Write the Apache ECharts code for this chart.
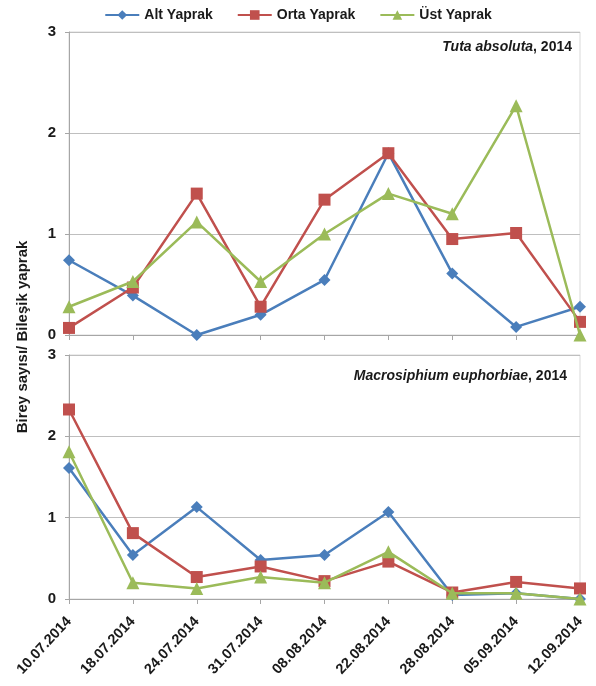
<!DOCTYPE html>
<html>
<head>
<meta charset="utf-8">
<script src="https://cdn.jsdelivr.net/npm/echarts@6/dist/echarts.min.js"></script>
<style>
  html, body { margin: 0; padding: 0; background: #fff; }
  #chart { width: 596px; height: 686px; }
</style>
</head>
<body>
<div id="chart"></div>
<script>
// Sampling dates
const dates = ['10.07.2014', '18.07.2014', '24.07.2014', '31.07.2014', '08.08.2014',
               '22.08.2014', '28.08.2014', '05.09.2014', '12.09.2014'];

// Tuta absoluta, 2014 (individuals per compound leaf)
const tutaAlt  = [0.74, 0.39, 0.00, 0.20, 0.545, 1.80, 0.61, 0.08, 0.28];
const tutaOrta = [0.07, 0.47, 1.40, 0.28, 1.34, 1.80, 0.95, 1.01, 0.13];
const tutaUst  = [0.28, 0.53, 1.12, 0.53, 1.00, 1.40, 1.20, 2.27, 0.00];

// Macrosiphium euphorbiae, 2014
const macAlt  = [1.61, 0.54, 1.13, 0.48, 0.54, 1.07, 0.05, 0.07, 0.00];
const macOrta = [2.33, 0.81, 0.27, 0.40, 0.22, 0.46, 0.08, 0.21, 0.13];
const macUst  = [1.81, 0.20, 0.13, 0.27, 0.20, 0.58, 0.07, 0.07, 0.00];

const yTicks = [0, 1, 2, 3];

const FONT = '"Liberation Sans", Arial, sans-serif';
const BLUE = '#4A7EBB', RED = '#C0504D', GREEN = '#9BBB59';

const chart = echarts.init(document.getElementById('chart'));

function xAxis(gridIndex, showLabels) {
  return {
    type: 'category', gridIndex, data: dates, boundaryGap: false,
    axisLine: { lineStyle: { color: '#A6A6A6', width: 1 } },
    axisTick: { show: true, alignWithLabel: true, length: 5, lineStyle: { color: '#A6A6A6' } },
    axisLabel: {
      show: showLabels, rotate: 47, margin: 20, color: '#1a1a1a',
      fontFamily: FONT, fontWeight: 'bold', fontSize: 14.5
    },
    splitLine: { show: false }
  };
}
function yAxis(gridIndex) {
  return {
    type: 'value', gridIndex, min: yTicks[0], max: yTicks[yTicks.length - 1], interval: 1,
    axisLine: { show: true, lineStyle: { color: '#A6A6A6' } },
    axisTick: { show: true, length: 4, lineStyle: { color: '#A6A6A6' } },
    axisLabel: { color: '#1a1a1a', fontFamily: FONT, fontWeight: 'bold', fontSize: 15, margin: 13 },
    splitLine: { show: true, lineStyle: { color: '#BFBFBF', width: 1 } }
  };
}
function series(name, data, color, symbol, size, idx) {
  return {
    name, type: 'line', data, xAxisIndex: idx, yAxisIndex: idx,
    symbol, symbolSize: size, showSymbol: true,
    itemStyle: { color }, lineStyle: { color, width: 2.5 },
    animation: false, z: symbol === 'triangle' ? 4 : (symbol === 'rect' ? 3 : 2)
  };
}

const option = {
  animation: false,
  backgroundColor: '#fff',
  legend: {
    top: 3, left: 'center', itemWidth: 34, itemHeight: 12, itemGap: 24,
    data: ['Alt Yaprak', 'Orta Yaprak', 'Üst Yaprak'],
    textStyle: { fontFamily: FONT, fontWeight: 'bold', fontSize: 14, color: '#1a1a1a' }
  },
  grid: [
    { left: 69, top: 32, width: 511, height: 303, show: true, borderColor: '#D9D9D9', borderWidth: 1 },
    { left: 69, top: 355, width: 511, height: 244, show: true, borderColor: '#D9D9D9', borderWidth: 1 }
  ],
  xAxis: [xAxis(0, false), xAxis(1, true)],
  yAxis: [yAxis(0), yAxis(1)],
  series: [
    series('Alt Yaprak', tutaAlt, BLUE, 'diamond', 12, 0),
    series('Orta Yaprak', tutaOrta, RED, 'rect', 12, 0),
    series('Üst Yaprak', tutaUst, GREEN, 'triangle', 13, 0),
    series('Alt Yaprak', macAlt, BLUE, 'diamond', 12, 1),
    series('Orta Yaprak', macOrta, RED, 'rect', 12, 1),
    series('Üst Yaprak', macUst, GREEN, 'triangle', 13, 1)
  ],
  graphic: [
    {
      type: 'text', x: 23, y: 337, rotation: Math.PI / 2,
      style: {
        text: 'Birey sayısı/ Bileşik yaprak', fill: '#1a1a1a',
        font: 'bold 15px ' + FONT, textAlign: 'center', textVerticalAlign: 'middle'
      }
    },
    {
      type: 'text', x: 572, y: 47,
      style: {
        text: '{i|Tuta absoluta}{n|, 2014}', textAlign: 'right', textVerticalAlign: 'middle',
        rich: {
          i: { font: 'italic bold 14px ' + FONT, fill: '#1a1a1a' },
          n: { font: 'bold 14px ' + FONT, fill: '#1a1a1a' }
        }
      }
    },
    {
      type: 'text', x: 567, y: 376,
      style: {
        text: '{i|Macrosiphium euphorbiae}{n|, 2014}', textAlign: 'right', textVerticalAlign: 'middle',
        rich: {
          i: { font: 'italic bold 14px ' + FONT, fill: '#1a1a1a' },
          n: { font: 'bold 14px ' + FONT, fill: '#1a1a1a' }
        }
      }
    }
  ]
};
chart.setOption(option);
</script>
</body>
</html>
